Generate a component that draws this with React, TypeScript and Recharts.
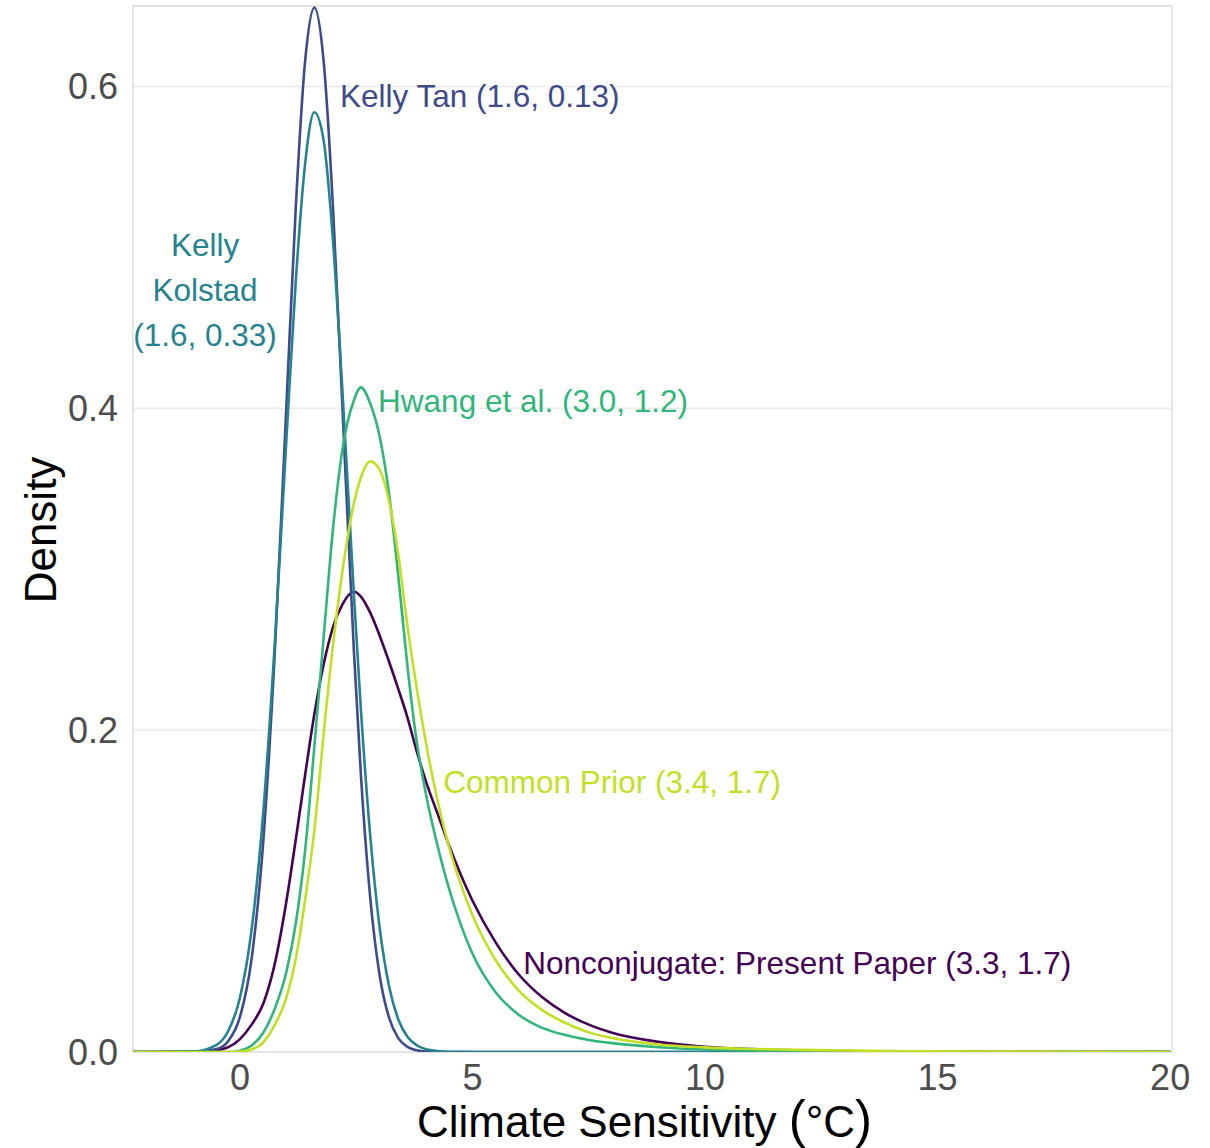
import React from "react";
import {
  LineChart,
  Line,
  XAxis,
  YAxis,
  CartesianGrid,
  ReferenceArea,
  ReferenceDot,
} from "recharts";

// climate sensitivity grid (°C) shared by every curve
const sensitivity = [
  -2.3, -1, -0.5, -0.25, 0, 0.25, 0.5, 0.75, 1, 1.2, 1.4, 1.6, 1.8, 2, 2.2, 2.45, 2.6, 2.8, 3, 3.2, 3.4,
  3.6, 3.8, 4, 4.25, 4.5, 4.75, 5, 5.5, 6, 6.5, 7, 7.5, 8, 9, 10, 11, 12, 14, 16, 18, 20,
];

// densities
const nonconjugate = [
  0, 0.0002, 0.0012, 0.003, 0.008, 0.017, 0.03, 0.055, 0.094, 0.132, 0.172, 0.21, 0.241, 0.264, 0.278,
  0.286, 0.283, 0.273, 0.259, 0.243, 0.226, 0.208, 0.187, 0.168, 0.148, 0.128, 0.11, 0.094, 0.068, 0.048,
  0.034, 0.024, 0.017, 0.012, 0.0063, 0.0033, 0.0018, 0.001, 0.0003, 0.0001, 0, 0,
];
const kellyTan = [
  0, 0.0001, 0.0019, 0.0069, 0.0218, 0.0579, 0.1304, 0.249, 0.4026, 0.5249, 0.6154, 0.649, 0.6154, 0.5249,
  0.4026, 0.249, 0.1723, 0.0962, 0.0482, 0.0218, 0.0088, 0.0032, 0.0011, 0.0003, 0.0001, 0, 0, 0, 0, 0, 0,
  0, 0, 0, 0, 0, 0, 0, 0, 0, 0, 0,
];
const kellyKolstad = [
  0, 0.0004, 0.0045, 0.0132, 0.0339, 0.0759, 0.1486, 0.2546, 0.3816, 0.479, 0.5518, 0.584, 0.5662, 0.5043,
  0.4123, 0.2841, 0.213, 0.1347, 0.0781, 0.0416, 0.0205, 0.0095, 0.0042, 0.0017, 0.0006, 0.0002, 0.0001,
  0, 0, 0, 0, 0, 0, 0, 0, 0, 0, 0, 0, 0, 0, 0,
];
const hwang = [
  0, 0, 0, 0, 0.0008, 0.004, 0.012, 0.027, 0.05, 0.08, 0.125, 0.19, 0.258, 0.325, 0.374, 0.405, 0.413,
  0.403, 0.383, 0.348, 0.297, 0.24, 0.193, 0.16, 0.128, 0.101, 0.079, 0.061, 0.037, 0.023, 0.015, 0.0105,
  0.0075, 0.0055, 0.003, 0.0016, 0.0009, 0.0005, 0.0001, 0, 0, 0,
];
const commonPrior = [
  0, 0, 0, 0, 0.0003, 0.0015, 0.006, 0.017, 0.034, 0.058, 0.0946, 0.138, 0.198, 0.253, 0.298, 0.341, 0.357,
  0.367, 0.362, 0.343, 0.31, 0.265, 0.226, 0.192, 0.156, 0.127, 0.104, 0.085, 0.057, 0.038, 0.026, 0.018,
  0.0122, 0.0087, 0.0047, 0.0029, 0.0019, 0.0013, 0.0006, 0.0003, 0.0001, 0,
];

const xTicks = [0, 5, 10, 15, 20];
const yTicks = [0, 0.2, 0.4, 0.6];

const FONT = "'Liberation Sans', Arial, Helvetica, sans-serif";

const SERIES = [
  { key: "nonconjugate", color: "#440154" },
  { key: "kellyTan", color: "#3E4A89" },
  { key: "kellyKolstad", color: "#26828E" },
  { key: "hwang", color: "#31B57B" },
  { key: "commonPrior", color: "#C2DF23" },
];

// text annotations placed in data coordinates
const LABELS = [
  { x: 2.15, y: 0.594, lines: ["Kelly Tan (1.6, 0.13)"], color: "#3E4A89", anchor: "start" },
  { x: -0.75, y: 0.474, lines: ["Kelly", "Kolstad", "(1.6, 0.33)"], color: "#26828E", anchor: "middle" },
  { x: 2.97, y: 0.405, lines: ["Hwang et al. (3.0, 1.2)"], color: "#31B57B", anchor: "start" },
  { x: 4.37, y: 0.168, lines: ["Common Prior (3.4, 1.7)"], color: "#C2DF23", anchor: "start" },
  { x: 6.09, y: 0.0553, lines: ["Nonconjugate: Present Paper (3.3, 1.7)"], color: "#440154", anchor: "start" },
];

const rows = sensitivity.map((x, i) => ({
  x,
  nonconjugate: nonconjugate[i],
  kellyTan: kellyTan[i],
  kellyKolstad: kellyKolstad[i],
  hwang: hwang[i],
  commonPrior: commonPrior[i],
}));

function annotation(lines: string[], color: string, anchor: string) {
  return (props: any) => {
    const vb = props.viewBox || {};
    const cx = vb.x + (vb.width || 0) / 2;
    const cy = vb.y + (vb.height || 0) / 2;
    const lh = 45;
    const top = cy - ((lines.length - 1) * lh) / 2;
    return (
      <g>
        {lines.map((t, i) => (
          <text
            key={i}
            x={cx}
            y={top + i * lh}
            dy="0.36em"
            textAnchor={anchor}
            fill={color}
            fontSize={31.5}
            fontFamily={FONT}
          >
            {t}
          </text>
        ))}
      </g>
    );
  };
}

export default function App() {
  return (
    <div style={{ position: "absolute", left: 0, top: 0, background: "#fff" }}>
      <LineChart width={1210} height={1148} data={rows} margin={{ top: 6, right: 38, bottom: 0, left: 0 }}>
        <CartesianGrid vertical={false} stroke="#EBEBEB" strokeWidth={1.5} />
        <ReferenceArea x1={-2.3} x2={20.04} y1={0} y2={0.65} fill="none" stroke="#D6D6D6" strokeWidth={1.2} />
        <XAxis
          type="number"
          dataKey="x"
          domain={[-2.3, 20.04]}
          allowDataOverflow
          ticks={xTicks}
          height={96}
          axisLine={false}
          tickLine={false}
          tickSize={0}
          tickMargin={12}
          tick={{ fill: "#4D4D4D", fontSize: 36, fontFamily: FONT }}
          label={{
            content: () => (
              <text x={417} y={1137} textAnchor="start" fill="#000" fontSize={44} fontFamily={FONT}>
                Climate Sensitivity <tspan fontSize={51}>(</tspan>
                <tspan>°C</tspan>
                <tspan fontSize={51}>)</tspan>
              </text>
            ),
          }}
        />
        <YAxis
          type="number"
          domain={[0, 0.65]}
          allowDataOverflow
          ticks={yTicks}
          width={133}
          axisLine={false}
          tickLine={false}
          tickSize={0}
          tickMargin={15}
          tickFormatter={(v: number) => v.toFixed(1)}
          tick={{ fill: "#4D4D4D", fontSize: 36, fontFamily: FONT }}
          label={{
            content: () => (
              <text
                transform="translate(56,530) rotate(-90)"
                textAnchor="middle"
                fill="#000"
                fontSize={44}
                fontFamily={FONT}
              >
                Density
              </text>
            ),
          }}
        />
        {SERIES.map((s) => (
          <Line
            key={s.key}
            type="monotone"
            dataKey={s.key}
            stroke={s.color}
            strokeWidth={2.6}
            dot={false}
            activeDot={false}
            isAnimationActive={false}
          />
        ))}
        {LABELS.map((l, i) => (
          <ReferenceDot
            key={i}
            x={l.x}
            y={l.y}
            r={0}
            fill="none"
            stroke="none"
            label={annotation(l.lines, l.color, l.anchor)}
          />
        ))}
      </LineChart>
    </div>
  );
}
